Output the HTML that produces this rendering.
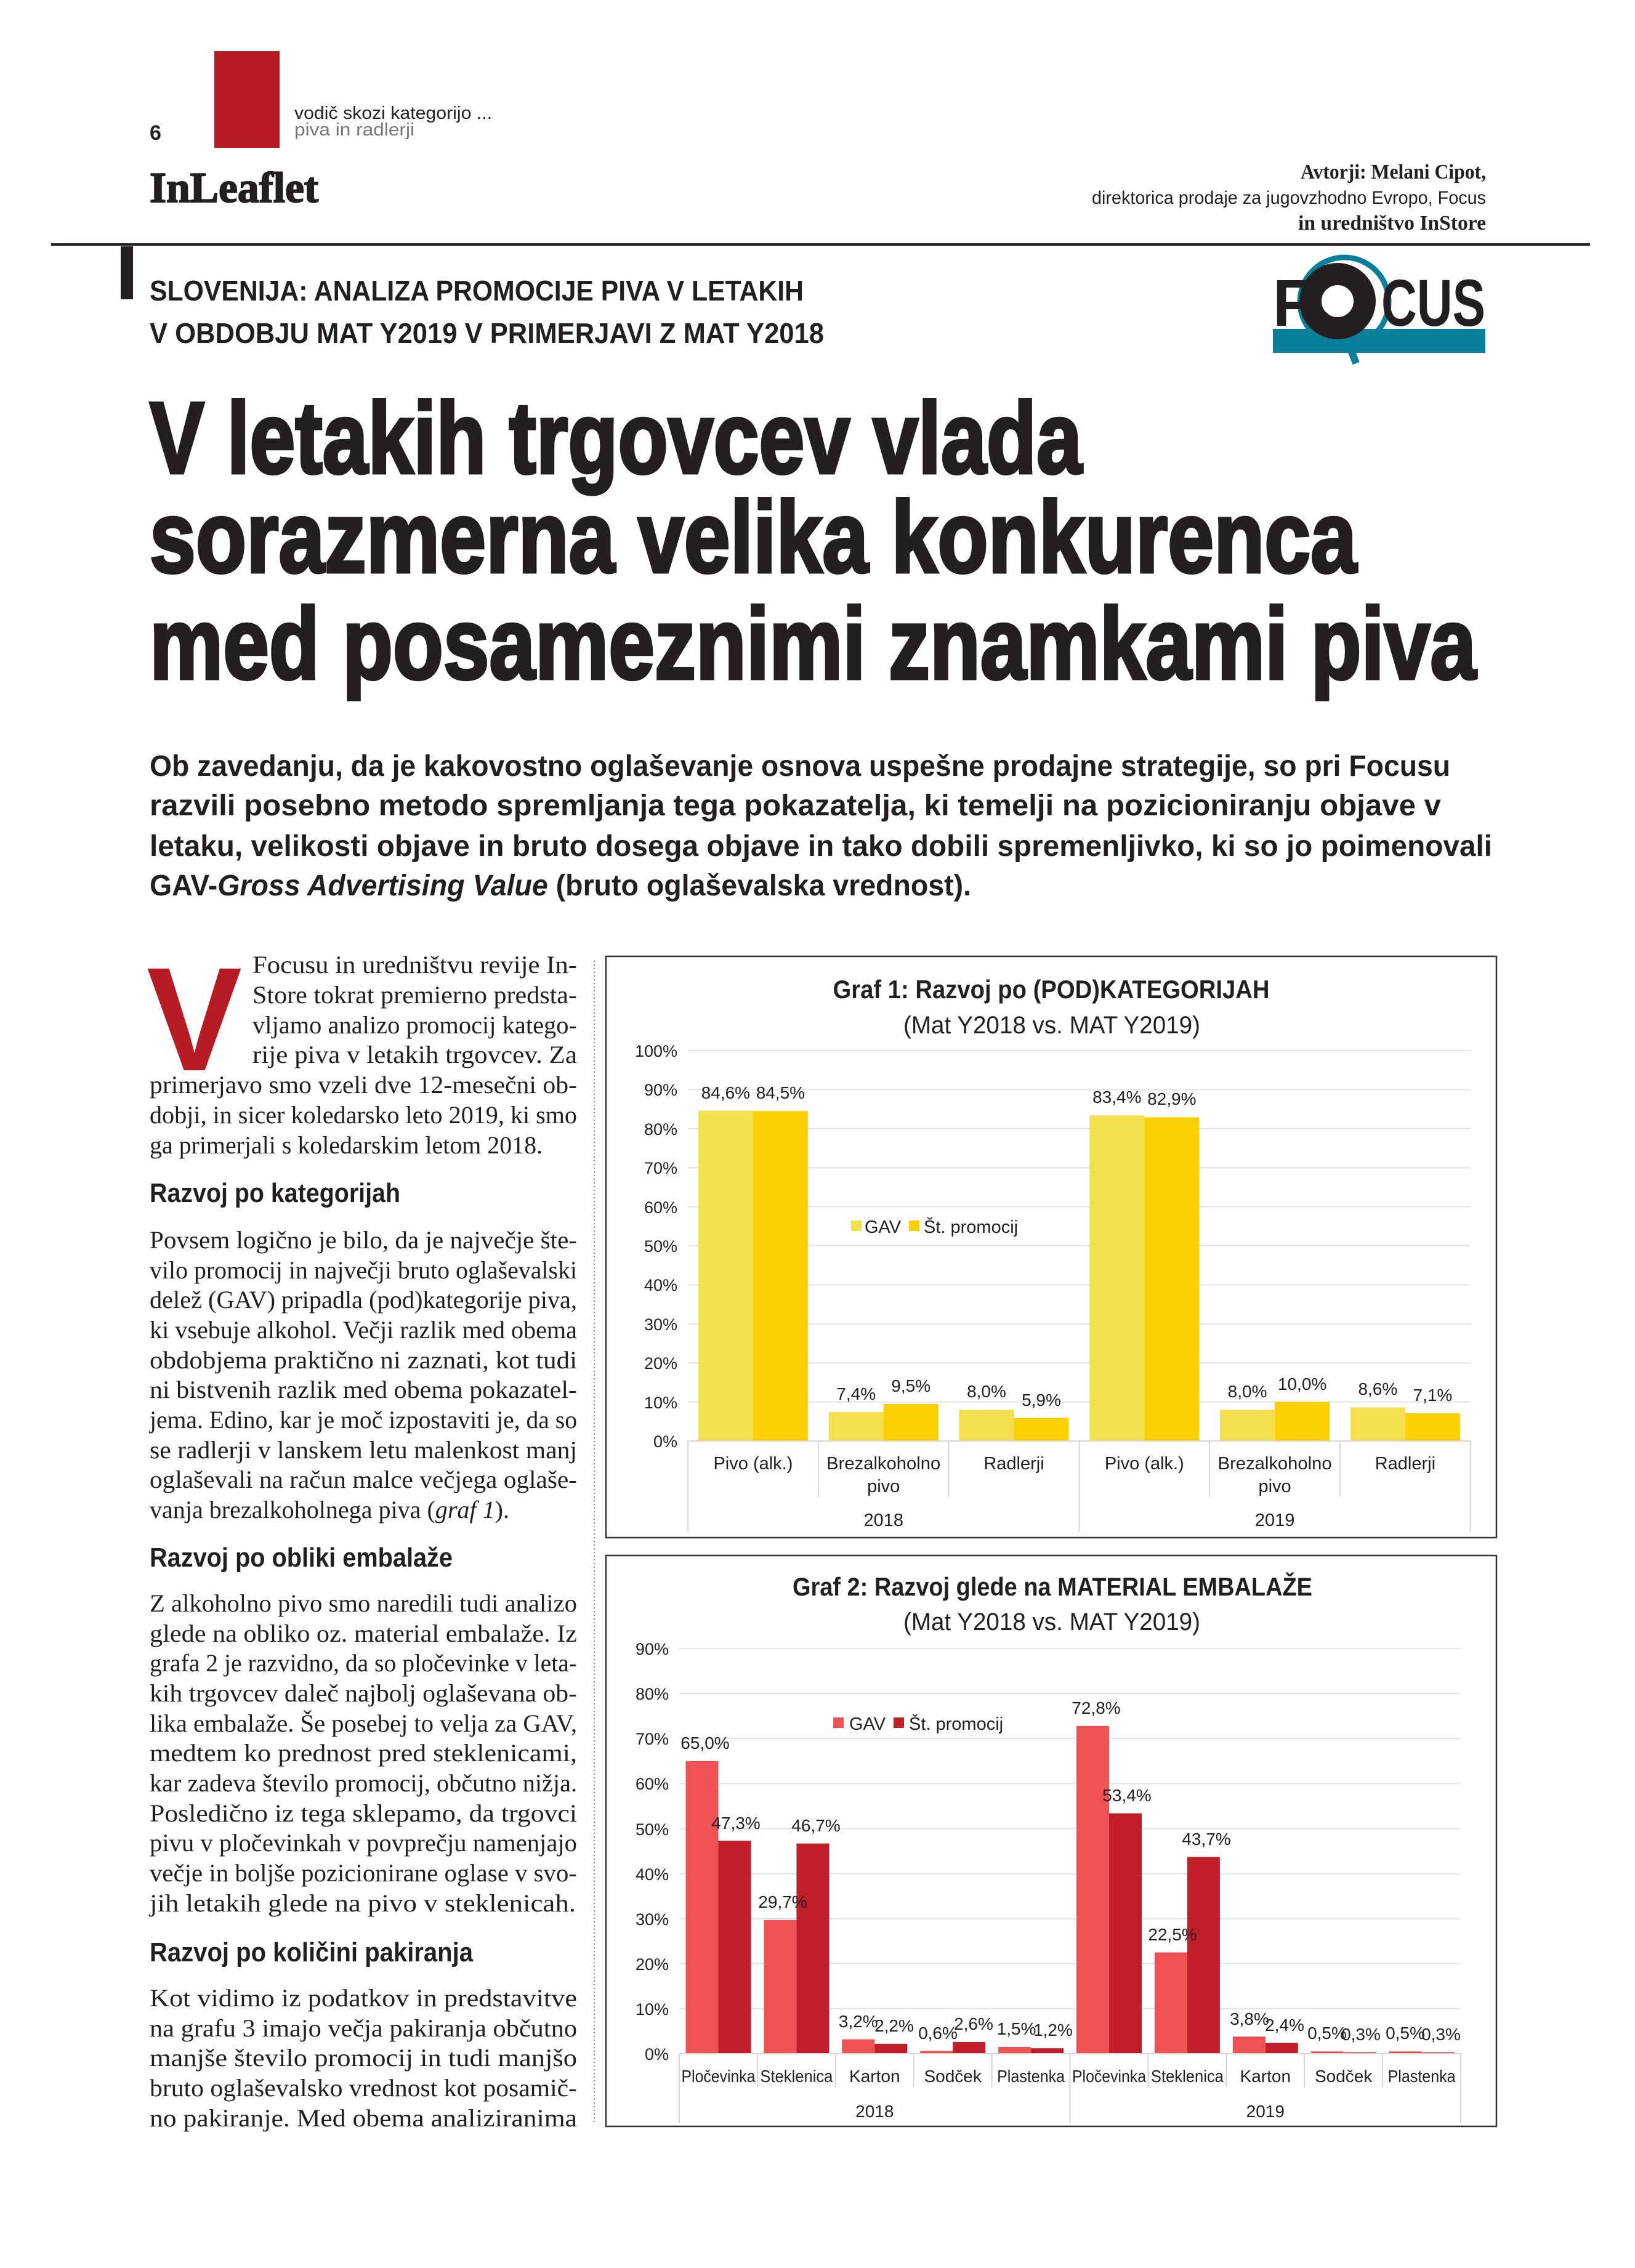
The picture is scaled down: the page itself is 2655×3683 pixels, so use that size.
<!DOCTYPE html>
<html><head><meta charset="utf-8"><style>
html,body{margin:0;padding:0;background:#fff}
svg{display:block}
.s{font-family:"Liberation Sans",sans-serif}
.r{font-family:"Liberation Serif",serif}
</style></head><body>
<svg width="2655" height="3683" viewBox="0 0 2655 3683" xmlns="http://www.w3.org/2000/svg" fill="#231f20">
<!-- header -->
<rect x="348" y="83" width="106" height="157" fill="#b51c24"/>
<text x="243" y="227" class="s" font-weight="bold" font-size="34">6</text>
<text x="478" y="193" class="s" font-size="29" textLength="321" lengthAdjust="spacingAndGlyphs">vodič skozi kategorijo ...</text>
<text x="478" y="220" class="s" font-size="29" fill="#777" textLength="195" lengthAdjust="spacingAndGlyphs">piva in radlerji</text>
<text x="243" y="328" class="r" font-weight="bold" font-size="70" textLength="274" lengthAdjust="spacingAndGlyphs" stroke="#231f20" stroke-width="2">InLeaflet</text>
<text x="2112" y="290" class="r" font-weight="bold" font-size="34" textLength="301" lengthAdjust="spacingAndGlyphs">Avtorji: Melani Cipot,</text>
<text x="1773" y="331" class="s" font-size="30" textLength="640" lengthAdjust="spacingAndGlyphs">direktorica prodaje za jugovzhodno Evropo, Focus</text>
<text x="2108" y="373" class="r" font-weight="bold" font-size="34" textLength="305" lengthAdjust="spacingAndGlyphs">in uredništvo InStore</text>
<rect x="83" y="395" width="2499" height="4" fill="#231f20"/>
<rect x="196" y="400" width="20" height="86"/>
<text x="243" y="488" class="s" font-weight="bold" font-size="46" textLength="1062" lengthAdjust="spacingAndGlyphs">SLOVENIJA: ANALIZA PROMOCIJE PIVA V LETAKIH</text>
<text x="243" y="557" class="s" font-weight="bold" font-size="46" textLength="1095" lengthAdjust="spacingAndGlyphs">V OBDOBJU MAT Y2019 V PRIMERJAVI Z MAT Y2018</text>
<!-- FOCUS logo -->
<rect x="2067" y="534" width="345" height="39" fill="#0a7f9c"/>
<circle cx="2183" cy="490" r="72" fill="none" stroke="#0a7f9c" stroke-width="9"/>
<line x1="2190" y1="558" x2="2202" y2="590" stroke="#0a7f9c" stroke-width="12"/>
<text x="2067" y="529" class="s" font-weight="bold" font-size="108" textLength="62" lengthAdjust="spacingAndGlyphs">F</text>
<circle cx="2172" cy="489" r="44" fill="none" stroke="#231f20" stroke-width="36"/>
<text x="2243" y="529" class="s" font-weight="bold" font-size="108" textLength="169" lengthAdjust="spacingAndGlyphs">CUS</text>
<!-- headline -->
<g stroke="#231f20" stroke-width="5">
<text x="243" y="768" class="s" font-weight="bold" font-size="165" textLength="1514" lengthAdjust="spacingAndGlyphs">V letakih trgovcev vlada</text>
<text x="243" y="929" class="s" font-weight="bold" font-size="165" textLength="1960" lengthAdjust="spacingAndGlyphs">sorazmerna velika konkurenca</text>
<text x="243" y="1102" class="s" font-weight="bold" font-size="165" textLength="2154" lengthAdjust="spacingAndGlyphs">med posameznimi znamkami piva</text>
</g>
<!-- intro -->
<g class="s" font-weight="bold" font-size="48">
<text x="243" y="1260" textLength="2112" lengthAdjust="spacingAndGlyphs">Ob zavedanju, da je kakovostno oglaševanje osnova uspešne prodajne strategije, so pri Focusu</text>
<text x="243" y="1324" textLength="2097" lengthAdjust="spacingAndGlyphs">razvili posebno metodo spremljanja tega pokazatelja, ki temelji na pozicioniranju objave v</text>
<text x="243" y="1390" textLength="2180" lengthAdjust="spacingAndGlyphs">letaku, velikosti objave in bruto dosega objave in tako dobili spremenljivko, ki so jo poimenovali</text>
<text x="243" y="1454" textLength="1334" lengthAdjust="spacingAndGlyphs">GAV-<tspan font-style="italic">Gross Advertising Value</tspan> (bruto oglaševalska vrednost).</text>
</g>
<!-- left column -->
<text x="238" y="1738" class="s" font-weight="bold" font-size="240" fill="#b51c24" textLength="155" lengthAdjust="spacingAndGlyphs">V</text>
<g class="r" font-size="40">
<text x="410" y="1580" textLength="527" lengthAdjust="spacingAndGlyphs">Focusu in uredništvu revije In-</text>
<text x="410" y="1629" textLength="527" lengthAdjust="spacingAndGlyphs">Store tokrat premierno predsta-</text>
<text x="410" y="1678" textLength="527" lengthAdjust="spacingAndGlyphs">vljamo analizo promocij katego-</text>
<text x="410" y="1726" textLength="527" lengthAdjust="spacingAndGlyphs">rije piva v letakih trgovcev. Za</text>
<text x="243" y="1775" textLength="694" lengthAdjust="spacingAndGlyphs">primerjavo smo vzeli dve 12-mesečni ob-</text>
<text x="243" y="1824" textLength="694" lengthAdjust="spacingAndGlyphs">dobji, in sicer koledarsko leto 2019, ki smo</text>
<text x="243" y="1873" textLength="638" lengthAdjust="spacingAndGlyphs">ga primerjali s koledarskim letom 2018.</text>
<text x="243" y="2027" textLength="694" lengthAdjust="spacingAndGlyphs">Povsem logično je bilo, da je največje šte-</text>
<text x="243" y="2076" textLength="694" lengthAdjust="spacingAndGlyphs">vilo promocij in največji bruto oglaševalski</text>
<text x="243" y="2124" textLength="694" lengthAdjust="spacingAndGlyphs">delež (GAV) pripadla (pod)kategorije piva,</text>
<text x="243" y="2173" textLength="694" lengthAdjust="spacingAndGlyphs">ki vsebuje alkohol. Večji razlik med obema</text>
<text x="243" y="2222" textLength="694" lengthAdjust="spacingAndGlyphs">obdobjema praktično ni zaznati, kot tudi</text>
<text x="243" y="2270" textLength="694" lengthAdjust="spacingAndGlyphs">ni bistvenih razlik med obema pokazatel-</text>
<text x="243" y="2319" textLength="694" lengthAdjust="spacingAndGlyphs">jema. Edino, kar je moč izpostaviti je, da so</text>
<text x="243" y="2368" textLength="694" lengthAdjust="spacingAndGlyphs">se radlerji v lanskem letu malenkost manj</text>
<text x="243" y="2416" textLength="694" lengthAdjust="spacingAndGlyphs">oglaševali na račun malce večjega oglaše-</text>
<text x="243" y="2465" textLength="584" lengthAdjust="spacingAndGlyphs">vanja brezalkoholnega piva (<tspan font-style="italic">graf 1</tspan>).</text>
<text x="243" y="2617" textLength="694" lengthAdjust="spacingAndGlyphs">Z alkoholno pivo smo naredili tudi analizo</text>
<text x="243" y="2666" textLength="694" lengthAdjust="spacingAndGlyphs">glede na obliko oz. material embalaže. Iz</text>
<text x="243" y="2714" textLength="694" lengthAdjust="spacingAndGlyphs">grafa 2 je razvidno, da so pločevinke v leta-</text>
<text x="243" y="2763" textLength="694" lengthAdjust="spacingAndGlyphs">kih trgovcev daleč najbolj oglaševana ob-</text>
<text x="243" y="2812" textLength="694" lengthAdjust="spacingAndGlyphs">lika embalaže. Še posebej to velja za GAV,</text>
<text x="243" y="2860" textLength="694" lengthAdjust="spacingAndGlyphs">medtem ko prednost pred steklenicami,</text>
<text x="243" y="2909" textLength="694" lengthAdjust="spacingAndGlyphs">kar zadeva število promocij, občutno nižja.</text>
<text x="243" y="2958" textLength="694" lengthAdjust="spacingAndGlyphs">Posledično iz tega sklepamo, da trgovci</text>
<text x="243" y="3006" textLength="694" lengthAdjust="spacingAndGlyphs">pivu v pločevinkah v povprečju namenjajo</text>
<text x="243" y="3055" textLength="694" lengthAdjust="spacingAndGlyphs">večje in boljše pozicionirane oglase v svo-</text>
<text x="243" y="3104" textLength="692" lengthAdjust="spacingAndGlyphs">jih letakih glede na pivo v steklenicah.</text>
<text x="243" y="3258" textLength="694" lengthAdjust="spacingAndGlyphs">Kot vidimo iz podatkov in predstavitve</text>
<text x="243" y="3307" textLength="694" lengthAdjust="spacingAndGlyphs">na grafu 3 imajo večja pakiranja občutno</text>
<text x="243" y="3355" textLength="694" lengthAdjust="spacingAndGlyphs">manjše število promocij in tudi manjšo</text>
<text x="243" y="3404" textLength="694" lengthAdjust="spacingAndGlyphs">bruto oglaševalsko vrednost kot posamič-</text>
<text x="243" y="3453" textLength="694" lengthAdjust="spacingAndGlyphs">no pakiranje. Med obema analiziranima</text>
</g>
<g class="s" font-weight="bold" font-size="44">
<text x="243" y="1952" textLength="407" lengthAdjust="spacingAndGlyphs">Razvoj po kategorijah</text>
<text x="243" y="2544" textLength="492" lengthAdjust="spacingAndGlyphs">Razvoj po obliki embalaže</text>
<text x="243" y="3185" textLength="525" lengthAdjust="spacingAndGlyphs">Razvoj po količini pakiranja</text>
</g>
<line x1="965" y1="1560" x2="965" y2="3450" stroke="#888" stroke-width="2" stroke-dasharray="2,4"/>

<!-- CHART 1 -->
<rect x="984" y="1553" width="1446" height="944" fill="none" stroke="#333" stroke-width="2.5"/>
<text x="1707" y="1621" class="s" font-weight="bold" font-size="42" text-anchor="middle" textLength="709" lengthAdjust="spacingAndGlyphs">Graf 1: Razvoj po (POD)KATEGORIJAH</text>
<text x="1708" y="1678" class="s" font-size="40" text-anchor="middle" textLength="482" lengthAdjust="spacingAndGlyphs">(Mat Y2018 vs. MAT Y2019)</text>
<g stroke="#e3e3e3" stroke-width="2">
<line x1="1117" y1="1706" x2="2388" y2="1706"/><line x1="1117" y1="1769.4" x2="2388" y2="1769.4"/><line x1="1117" y1="1832.8" x2="2388" y2="1832.8"/><line x1="1117" y1="1896.2" x2="2388" y2="1896.2"/><line x1="1117" y1="1959.6" x2="2388" y2="1959.6"/><line x1="1117" y1="2023" x2="2388" y2="2023"/><line x1="1117" y1="2086.4" x2="2388" y2="2086.4"/><line x1="1117" y1="2149.8" x2="2388" y2="2149.8"/><line x1="1117" y1="2213.2" x2="2388" y2="2213.2"/><line x1="1117" y1="2276.6" x2="2388" y2="2276.6"/>
</g>
<g class="s" font-size="27" text-anchor="end">
<text x="1100" y="1716">100%</text><text x="1100" y="1779">90%</text><text x="1100" y="1843">80%</text><text x="1100" y="1906">70%</text><text x="1100" y="1970">60%</text><text x="1100" y="2033">50%</text><text x="1100" y="2096">40%</text><text x="1100" y="2160">30%</text><text x="1100" y="2223">20%</text><text x="1100" y="2287">10%</text><text x="1100" y="2350">0%</text>
</g>
<g fill="#f4df4e">
<rect x="1134" y="1803.6" width="89" height="536.4"/><rect x="1345.7" y="2293.1" width="89" height="46.9"/><rect x="1557.5" y="2289.3" width="89" height="50.7"/><rect x="1769.3" y="1811.2" width="89" height="528.8"/><rect x="1981.1" y="2289.3" width="89" height="50.7"/><rect x="2192.9" y="2285.5" width="89" height="54.5"/>
</g>
<g fill="#fccf03">
<rect x="1222.9" y="1804.3" width="89" height="535.7"/><rect x="1434.7" y="2279.8" width="89" height="60.2"/><rect x="1646.5" y="2302.6" width="89" height="37.4"/><rect x="1858.3" y="1814.4" width="89" height="525.6"/><rect x="2070.1" y="2276.6" width="89" height="63.4"/><rect x="2281.9" y="2295" width="89" height="45"/>
</g>
<g stroke="#d6d6d6" stroke-width="2">
<line x1="1117" y1="2340" x2="2388" y2="2340"/>
<line x1="1117" y1="2340" x2="1117" y2="2487"/><line x1="1328.8" y1="2340" x2="1328.8" y2="2431"/><line x1="1540.6" y1="2340" x2="1540.6" y2="2431"/><line x1="1752.4" y1="2340" x2="1752.4" y2="2487"/><line x1="1964.2" y1="2340" x2="1964.2" y2="2431"/><line x1="2176" y1="2340" x2="2176" y2="2431"/><line x1="2387.8" y1="2340" x2="2387.8" y2="2487"/>
</g>
<g class="s" font-size="28" text-anchor="middle">
<text x="1178.4" y="1784">84,6%</text><text x="1267.4" y="1784">84,5%</text>
<text x="1390.2" y="2273">7,4%</text><text x="1479.2" y="2260">9,5%</text>
<text x="1602" y="2269">8,0%</text><text x="1691" y="2283">5,9%</text>
<text x="1813.8" y="1791">83,4%</text><text x="1902.8" y="1794">82,9%</text>
<text x="2025.6" y="2269">8,0%</text><text x="2114.6" y="2257">10,0%</text>
<text x="2237.4" y="2265">8,6%</text><text x="2326.4" y="2275">7,1%</text>
</g>
<g class="s" font-size="29" text-anchor="middle">
<text x="1222.9" y="2386">Pivo (alk.)</text>
<text x="1434.7" y="2386" textLength="185" lengthAdjust="spacingAndGlyphs">Brezalkoholno</text><text x="1434.7" y="2423">pivo</text>
<text x="1646.5" y="2386">Radlerji</text>
<text x="1858.3" y="2386">Pivo (alk.)</text>
<text x="2070.1" y="2386" textLength="185" lengthAdjust="spacingAndGlyphs">Brezalkoholno</text><text x="2070.1" y="2423">pivo</text>
<text x="2281.9" y="2386">Radlerji</text>
<text x="1434.7" y="2478">2018</text><text x="2070.1" y="2478">2019</text>
</g>
<rect x="1382" y="1982" width="17" height="17" fill="#f4df4e"/>
<text x="1404" y="2002" class="s" font-size="29">GAV</text>
<rect x="1476" y="1982" width="17" height="17" fill="#fccf03"/>
<text x="1500" y="2002" class="s" font-size="29">Št. promocij</text>

<!-- CHART 2 -->
<rect x="984" y="2526" width="1446" height="927" fill="none" stroke="#333" stroke-width="2.5"/>
<text x="1709" y="2591" class="s" font-weight="bold" font-size="42" text-anchor="middle" textLength="844" lengthAdjust="spacingAndGlyphs">Graf 2: Razvoj glede na MATERIAL EMBALAŽE</text>
<text x="1708" y="2647" class="s" font-size="40" text-anchor="middle" textLength="482" lengthAdjust="spacingAndGlyphs">(Mat Y2018 vs. MAT Y2019)</text>
<g stroke="#e3e3e3" stroke-width="2">
<line x1="1103" y1="2677.1" x2="2372" y2="2677.1"/><line x1="1103" y1="2750.2" x2="2372" y2="2750.2"/><line x1="1103" y1="2823.3" x2="2372" y2="2823.3"/><line x1="1103" y1="2896.4" x2="2372" y2="2896.4"/><line x1="1103" y1="2969.5" x2="2372" y2="2969.5"/><line x1="1103" y1="3042.6" x2="2372" y2="3042.6"/><line x1="1103" y1="3115.7" x2="2372" y2="3115.7"/><line x1="1103" y1="3188.8" x2="2372" y2="3188.8"/><line x1="1103" y1="3261.9" x2="2372" y2="3261.9"/>
</g>
<g class="s" font-size="27" text-anchor="end">
<text x="1086" y="2687">90%</text><text x="1086" y="2760">80%</text><text x="1086" y="2833">70%</text><text x="1086" y="2906">60%</text><text x="1086" y="2980">50%</text><text x="1086" y="3053">40%</text><text x="1086" y="3126">30%</text><text x="1086" y="3199">20%</text><text x="1086" y="3272">10%</text><text x="1086" y="3345">0%</text>
</g>
<g fill="#ee5253">
<rect x="1113.5" y="2859.8" width="53" height="475.2"/><rect x="1240.4" y="3117.9" width="53" height="217.1"/><rect x="1367.3" y="3311.6" width="53" height="23.4"/><rect x="1494.2" y="3330.6" width="53" height="4.4"/><rect x="1621.1" y="3324" width="53" height="11"/>
<rect x="1748" y="2802.8" width="53" height="532.2"/><rect x="1874.9" y="3170.5" width="53" height="164.5"/><rect x="2001.8" y="3307.2" width="53" height="27.8"/><rect x="2128.7" y="3331.3" width="53" height="3.7"/><rect x="2255.6" y="3331.3" width="53" height="3.7"/>
</g>
<g fill="#c01f2a">
<rect x="1166.5" y="2989.2" width="53" height="345.8"/><rect x="1293.4" y="2993.6" width="53" height="341.4"/><rect x="1420.3" y="3318.9" width="53" height="16.1"/><rect x="1547.2" y="3316" width="53" height="19"/><rect x="1674.1" y="3326.2" width="53" height="8.8"/>
<rect x="1801" y="2944.6" width="53" height="390.4"/><rect x="1927.9" y="3015.6" width="53" height="319.4"/><rect x="2054.8" y="3317.5" width="53" height="17.5"/><rect x="2181.7" y="3332.8" width="53" height="2.2"/><rect x="2308.6" y="3332.8" width="53" height="2.2"/>
</g>
<g stroke="#d6d6d6" stroke-width="2">
<line x1="1103" y1="3335" x2="2372" y2="3335"/>
<line x1="1103" y1="3335" x2="1103" y2="3448"/><line x1="1229.9" y1="3335" x2="1229.9" y2="3389"/><line x1="1356.8" y1="3335" x2="1356.8" y2="3389"/><line x1="1483.7" y1="3335" x2="1483.7" y2="3389"/><line x1="1610.6" y1="3335" x2="1610.6" y2="3389"/><line x1="1737.5" y1="3335" x2="1737.5" y2="3448"/><line x1="1864.4" y1="3335" x2="1864.4" y2="3389"/><line x1="1991.3" y1="3335" x2="1991.3" y2="3389"/><line x1="2118.2" y1="3335" x2="2118.2" y2="3389"/><line x1="2245.1" y1="3335" x2="2245.1" y2="3389"/><line x1="2372" y1="3335" x2="2372" y2="3448"/>
</g>
<g class="s" font-size="28" text-anchor="middle">
<text x="1145" y="2840">65,0%</text><text x="1195" y="2970">47,3%</text>
<text x="1271" y="3098">29,7%</text><text x="1325" y="2974">46,7%</text>
<text x="1393.8" y="3292">3,2%</text><text x="1452" y="3299">2,2%</text>
<text x="1523" y="3311">0,6%</text><text x="1581" y="3296">2,6%</text>
<text x="1650.6" y="3304">1,5%</text><text x="1710" y="3306">1,2%</text>
<text x="1780" y="2783">72,8%</text><text x="1830" y="2925">53,4%</text>
<text x="1904" y="3151">22,5%</text><text x="1959" y="2996">43,7%</text>
<text x="2029" y="3288">3,8%</text><text x="2086" y="3298">2,4%</text>
<text x="2155" y="3311">0,5%</text><text x="2210" y="3313">0,3%</text>
<text x="2282" y="3311">0,5%</text><text x="2340" y="3313">0,3%</text>
</g>
<g class="s" font-size="28" text-anchor="middle">
<text x="1166.5" y="3381" textLength="120" lengthAdjust="spacingAndGlyphs">Pločevinka</text>
<text x="1293.4" y="3381" textLength="118" lengthAdjust="spacingAndGlyphs">Steklenica</text>
<text x="1420.3" y="3381">Karton</text>
<text x="1547.2" y="3381">Sodček</text>
<text x="1674.1" y="3381" textLength="110" lengthAdjust="spacingAndGlyphs">Plastenka</text>
<text x="1801" y="3381" textLength="120" lengthAdjust="spacingAndGlyphs">Pločevinka</text>
<text x="1927.9" y="3381" textLength="118" lengthAdjust="spacingAndGlyphs">Steklenica</text>
<text x="2054.8" y="3381">Karton</text>
<text x="2181.7" y="3381">Sodček</text>
<text x="2308.6" y="3381" textLength="110" lengthAdjust="spacingAndGlyphs">Plastenka</text>
<text x="1420.3" y="3438">2018</text><text x="2054.8" y="3438">2019</text>
</g>
<rect x="1353" y="2789" width="17" height="17" fill="#ee5253"/>
<text x="1379" y="2809" class="s" font-size="29">GAV</text>
<rect x="1451" y="2789" width="17" height="17" fill="#c01f2a"/>
<text x="1476" y="2809" class="s" font-size="29">Št. promocij</text>
</svg>
</body></html>
